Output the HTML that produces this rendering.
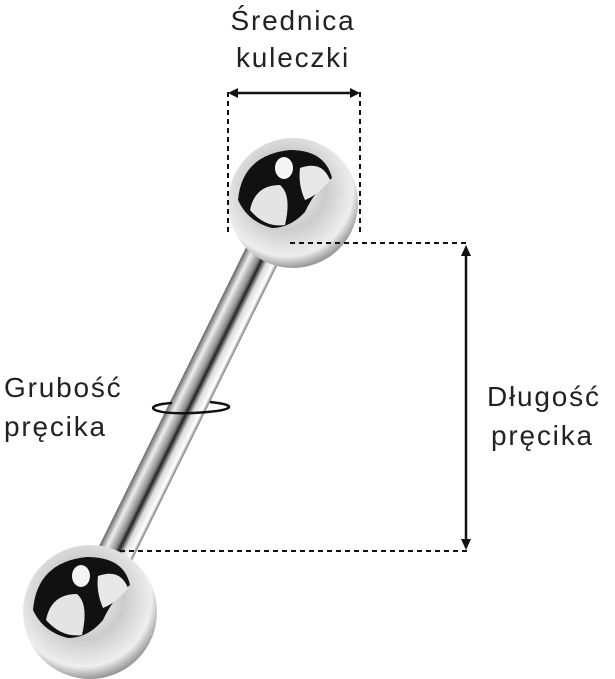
<!DOCTYPE html>
<html><head><meta charset="utf-8"><style>
html,body{margin:0;padding:0;background:#fff;}
svg{display:block;}
text{font-family:"Liberation Sans",sans-serif;font-size:28px;fill:#222;letter-spacing:1.8px;}
</style></head><body>
<svg width="615" height="679" viewBox="0 0 615 679" xmlns="http://www.w3.org/2000/svg">
<defs>
<radialGradient id="ball" cx="0.45" cy="0.4" r="0.6">
<stop offset="0" stop-color="#fff"/>
<stop offset="0.5" stop-color="#ccc"/>
<stop offset="0.85" stop-color="#eee"/>
<stop offset="1" stop-color="#999"/>
</radialGradient>
<linearGradient id="bar" x1="0" y1="0" x2="1" y2="0">
<stop offset="0" stop-color="#666"/>
<stop offset="0.2" stop-color="#eee"/>
<stop offset="0.45" stop-color="#888"/>
<stop offset="0.55" stop-color="#222"/>
<stop offset="0.7" stop-color="#ddd"/>
<stop offset="0.9" stop-color="#fff"/>
<stop offset="1" stop-color="#777"/>
</linearGradient>
</defs>
<g transform="translate(190,402) rotate(26.2)">
<rect x="-18" y="-185" width="36" height="370" fill="url(#bar)"/>
</g>
<!-- top ball -->
<circle cx="293" cy="203" r="65" fill="url(#ball)"/>
<path d="M238,200 Q242,155 290,150 Q325,150 332,178 Q315,190 305,212 Q290,228 272,228 Q248,222 238,200Z" fill="#111"/>
<path d="M250,210 Q255,185 280,185 Q292,195 285,225 Q265,228 250,210Z" fill="#e4e4e4"/>
<path d="M300,168 Q322,160 330,180 Q318,195 305,200 Q298,185 300,168Z" fill="#e8e8e8"/>
<ellipse cx="284" cy="168" rx="9" ry="11" fill="#f4f4f4"/>
<!-- bottom ball -->
<circle cx="90" cy="612" r="67" fill="url(#ball)"/>
<path d="M33,610 Q37,562 87,557 Q124,557 130,585 Q113,598 103,620 Q88,638 68,638 Q43,632 33,610Z" fill="#111"/>
<path d="M46,620 Q51,594 77,594 Q89,604 82,635 Q62,638 46,620Z" fill="#e4e4e4"/>
<path d="M98,576 Q120,568 128,588 Q116,603 103,608 Q96,592 98,576Z" fill="#e8e8e8"/>
<ellipse cx="81" cy="576" rx="9" ry="11" fill="#f4f4f4"/>
<g stroke="#111" stroke-width="2" stroke-dasharray="5,4" fill="none">
<line x1="228" y1="92" x2="228" y2="235"/>
<line x1="360" y1="92" x2="360" y2="235"/>
<line x1="290" y1="243" x2="467" y2="243"/>
<line x1="120" y1="551" x2="467" y2="551"/>
</g>
<g stroke="#111" stroke-width="2.5" fill="#111">
<line x1="234" y1="93" x2="354" y2="93"/>
<line x1="466" y1="252" x2="466" y2="542"/>
</g>
<polygon points="228,93 238,88 238,98" fill="#111"/>
<polygon points="360,93 350,88 350,98" fill="#111"/>
<polygon points="466,245 461,256 471,256" fill="#111"/>
<polygon points="466,550 461,539 471,539" fill="#111"/>
<path d="M172,403 C140,405 150,415 192,413 C235,411 240,405 210,402" stroke="#111" stroke-width="2.5" fill="none"/>
<text x="293" y="30" text-anchor="middle">Średnica</text>
<text x="293" y="67" text-anchor="middle">kuleczki</text>
<text x="4" y="397">Grubość</text>
<text x="4" y="436">pręcika</text>
<text x="487" y="406">Długość</text>
<text x="491" y="445">pręcika</text>
</svg>
</body></html>
